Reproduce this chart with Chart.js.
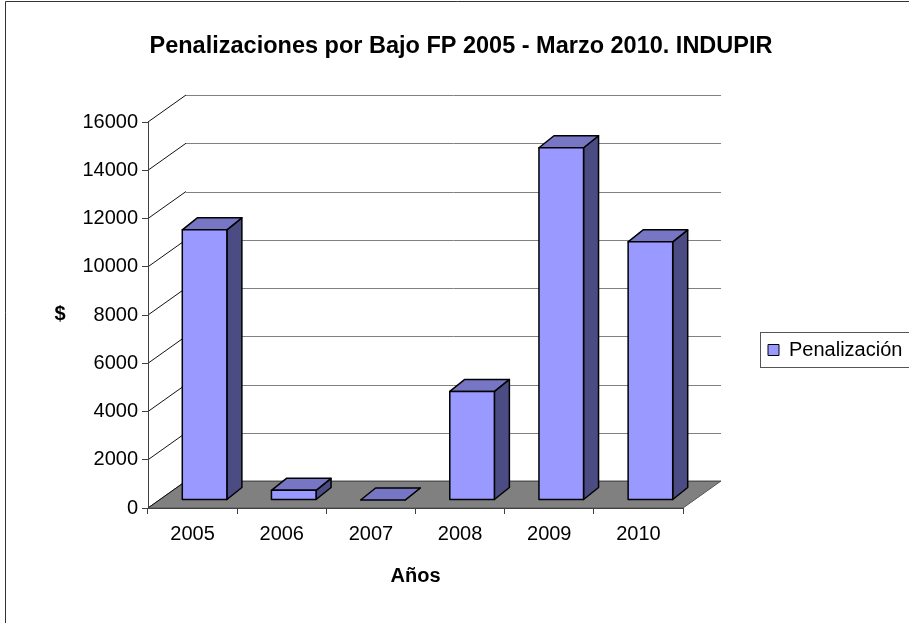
<!DOCTYPE html>
<html>
<head>
<meta charset="utf-8">
<script src="https://cdn.jsdelivr.net/npm/chart.js@4"></script>
<style>
  body { margin: 0; background: #fff; }
  #wrap { width: 909px; height: 623px; }
</style>
</head>
<body>
<div id="wrap"><canvas id="myChart" width="909" height="623"></canvas></div>
<script>
const years = ["2005", "2006", "2007", "2008", "2009", "2010"];
const penalizacion = [11200, 400, 0, 4500, 14600, 10700];
const yMax = 16000;
const yStep = 2000;

const chartTitle = "Penalizaciones por Bajo FP 2005 - Marzo 2010. INDUPIR";
const FONT = "'Liberation Sans', Arial, sans-serif";

// 3d look: wall depth, bar position inside the floor and bar depth
const wall = { dx: 38, dy: -27 };
const barShift = { dx: 12, dy: -8 };
const barDepth = { dx: 15, dy: -12 };

Chart.defaults.font.family = FONT;
Chart.defaults.color = "#000";

const fake3d = {
  id: "fake3d",
  afterLayout(chart) {
    // put the legend where excel had it (and let it be wide enough)
    const lg = chart.legend;
    lg.left = 758;
    lg.width = 170;
    lg.right = 758 + 170;
    lg.top = 330;
    lg.bottom = 330 + lg.height;
  },
  beforeDraw(chart) {
    const ctx = chart.ctx;
    const { left, right, bottom } = chart.chartArea;
    const y = chart.scales.y;
    ctx.save();
    // outer frame
    ctx.strokeStyle = "#333";
    ctx.lineWidth = 1;
    ctx.beginPath();
    ctx.moveTo(5.5, 640);
    ctx.lineTo(5.5, 1.5);
    ctx.lineTo(920, 1.5);
    ctx.stroke();

    // floor
    ctx.fillStyle = "#808080";
    ctx.beginPath();
    ctx.moveTo(left, bottom);
    ctx.lineTo(right, bottom);
    ctx.lineTo(right + wall.dx, bottom + wall.dy);
    ctx.lineTo(left + wall.dx, bottom + wall.dy);
    ctx.closePath();
    ctx.fill();
    ctx.strokeStyle = "#555";
    ctx.stroke();

    // back wall lines
    y.ticks.forEach((t) => {
      const py = y.getPixelForValue(t.value);
      ctx.strokeStyle = "#111";
      ctx.beginPath();
      ctx.moveTo(left, py);
      ctx.lineTo(left + wall.dx, py + wall.dy);
      ctx.stroke();
      ctx.strokeStyle = t.value === 0 ? "#555" : "#808080";
      ctx.beginPath();
      ctx.moveTo(left + wall.dx, Math.round(py + wall.dy) + 0.5);
      ctx.lineTo(right + wall.dx, Math.round(py + wall.dy) + 0.5);
      ctx.stroke();
    });
    ctx.restore();
  },
  beforeDatasetDraw() {
    return false;
  },
  afterDatasetsDraw(chart) {
    const ctx = chart.ctx;
    const meta = chart.getDatasetMeta(0);
    ctx.save();
    ctx.lineWidth = 1.5;
    ctx.lineJoin = "round";
    ctx.strokeStyle = "#000";
    meta.data.forEach((bar) => {
      const { x, y, base, width } = bar.getProps(["x", "y", "base", "width"], true);
      const fl = x - width / 2 + barShift.dx;
      const fr = x + width / 2 + barShift.dx;
      const ft = y + barShift.dy;
      const fb = base + barShift.dy;
      const bx = barDepth.dx;
      const by = barDepth.dy;

      // side
      ctx.fillStyle = "#4c4c85";
      ctx.beginPath();
      ctx.moveTo(fr, fb);
      ctx.lineTo(fr, ft);
      ctx.lineTo(fr + bx, ft + by);
      ctx.lineTo(fr + bx, fb + by);
      ctx.closePath();
      ctx.fill();
      ctx.stroke();

      // top
      ctx.fillStyle = "#7676c4";
      ctx.beginPath();
      ctx.moveTo(fl, ft);
      ctx.lineTo(fr, ft);
      ctx.lineTo(fr + bx, ft + by);
      ctx.lineTo(fl + bx, ft + by);
      ctx.closePath();
      ctx.fill();
      ctx.stroke();

      // front
      if (fb - ft > 0.5) {
        ctx.fillStyle = "#9999ff";
        ctx.fillRect(fl, ft, fr - fl, fb - ft);
        ctx.strokeRect(fl, ft, fr - fl, fb - ft);
      }
    });
    ctx.restore();
  },
  afterDraw(chart) {
    const ctx = chart.ctx;
    ctx.save();
    ctx.fillStyle = "#000";
    ctx.textAlign = "center";
    ctx.textBaseline = "middle";
    ctx.font = "bold 23.5px " + FONT;
    ctx.fillText(chartTitle, 461, 47);
    ctx.font = "bold 20px " + FONT;
    ctx.fillText("$", 60, 314);

    // legend frame
    ctx.strokeStyle = "#555";
    ctx.lineWidth = 1;
    ctx.strokeRect(760.5, 332.5, 170, 35);
    ctx.restore();
  },
};

const data = {
  labels: years,
  datasets: [
    {
      label: "Penalización",
      data: penalizacion,
      backgroundColor: "#9999ff",
      borderColor: "#000",
      borderWidth: 1,
      barPercentage: 0.5,
      categoryPercentage: 1,
    },
  ],
};

new Chart(document.getElementById("myChart"), {
  type: "bar",
  data: data,
  plugins: [fake3d],
  options: {
    responsive: false,
    animation: false,
    layout: { padding: { left: 0, top: 122, right: 126, bottom: 25 } },
    plugins: {
      title: { display: false },
      tooltip: { enabled: false },
      legend: {
        position: "right",
        align: "start",
        maxWidth: 100,
        labels: {
          font: { size: 20 },
          color: "#000",
          boxWidth: 11,
          boxHeight: 11,
          padding: 10,
        },
      },
    },
    scales: {
      x: {
        offset: true,
        grid: { offset: true, drawOnChartArea: false, tickLength: 6, color: "#404040" },
        border: { color: "#404040" },
        ticks: { font: { size: 20 }, color: "#000", padding: 8, maxRotation: 0 },
        title: {
          display: true,
          text: "Años",
          font: { size: 20, weight: "bold" },
          color: "#000",
          padding: { top: 0, bottom: 10 },
        },
        afterFit(scale) {
          scale.height = 90;
        },
      },
      y: {
        min: 0,
        max: yMax,
        ticks: {
          stepSize: yStep,
          font: { size: 20 },
          color: "#000",
          padding: 4,
          callback: (v) => String(v),
        },
        grid: { drawOnChartArea: false, tickLength: 6, color: "#404040" },
        border: { color: "#404040" },
        afterFit(scale) {
          scale.width = 148;
        },
      },
    },
  },
});
</script>
</body>
</html>
